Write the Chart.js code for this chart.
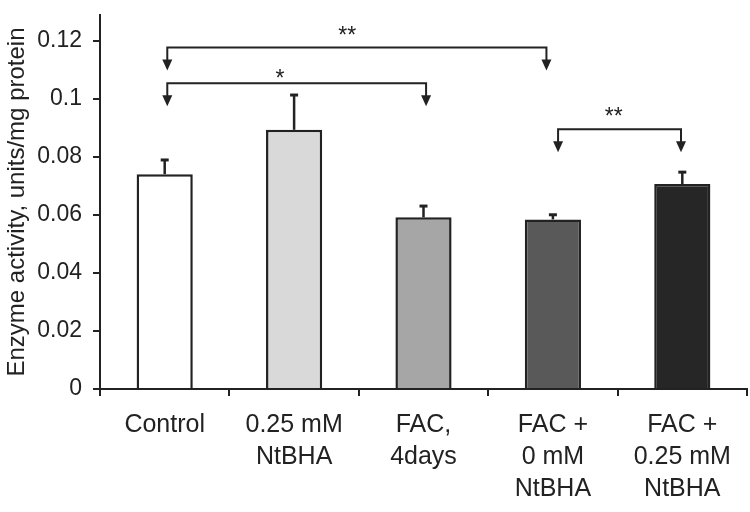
<!DOCTYPE html>
<html>
<head>
<meta charset="utf-8">
<script src="https://cdn.jsdelivr.net/npm/chart.js@4.4.1/dist/chart.umd.min.js"></script>
<style>
  html, body { margin: 0; padding: 0; background: #fff; }
  #wrap { width: 750px; height: 512px; }
</style>
</head>
<body>
<div id="wrap"><canvas id="chart" width="750" height="512"></canvas></div>
<script>
// --- DATA ---
const categories = [
  'Control',
  ['0.25 mM', 'NtBHA'],
  ['FAC,', '4days'],
  ['FAC +', '0 mM', 'NtBHA'],
  ['FAC +', '0.25 mM', 'NtBHA']
];
const activity = [0.0741, 0.0894, 0.0592, 0.0585, 0.0707];
const errors = [0.0049, 0.0120, 0.0039, 0.0016, 0.0041];
const barColors = ['#ffffff', '#d9d9d9', '#a6a6a6', '#595959', '#262626'];
const yTicks = [0, 0.02, 0.04, 0.06, 0.08, 0.1, 0.12];

// significance brackets (x in category index units, y in data units)
const bracketFrom = [0.02, 0.02, 3.04];
const bracketTo = [2.95, 2.02, 3.99];
const bracketY = [0.1178, 0.1055, 0.0896];
const starText = ['**', '*', '**'];
const starX = [1.41, 0.89, 3.47];
const starY = [0.1238, 0.1091, 0.0959];

const ink = '#222';
const fontFamily = '"Liberation Sans", Arial, Helvetica, sans-serif';

// --- PLUGINS ---
// upper error bars only
const errorBars = {
  id: 'errorBars',
  afterDatasetsDraw(chart) {
    const {ctx, scales: {x, y}} = chart;
    ctx.save();
    ctx.strokeStyle = ink;
    activity.forEach((v, i) => {
      const px = x.getPixelForValue(i);
      const top = y.getPixelForValue(v);
      const hi = y.getPixelForValue(v + errors[i]);
      ctx.lineWidth = 2.5;
      ctx.beginPath();
      ctx.moveTo(px, top);
      ctx.lineTo(px, hi);
      ctx.stroke();
      ctx.lineWidth = 3;
      ctx.beginPath();
      ctx.moveTo(px - 4, hi);
      ctx.lineTo(px + 4, hi);
      ctx.stroke();
    });
    ctx.restore();
  }
};

// brackets with down arrows and stars
const brackets = {
  id: 'brackets',
  afterDraw(chart) {
    const {ctx, scales: {x, y}} = chart;
    ctx.save();
    ctx.strokeStyle = ink;
    ctx.fillStyle = ink;
    ctx.lineWidth = 2;
    const drop = 13, head = 10, halfW = 5;
    bracketY.forEach((by, i) => {
      const x1 = x.getPixelForValue(bracketFrom[i]);
      const x2 = x.getPixelForValue(bracketTo[i]);
      const py = y.getPixelForValue(by);
      ctx.beginPath();
      ctx.moveTo(x1, py + drop);
      ctx.lineTo(x1, py);
      ctx.lineTo(x2, py);
      ctx.lineTo(x2, py + drop);
      ctx.stroke();
      [x1, x2].forEach(ax => {
        ctx.beginPath();
        ctx.moveTo(ax - halfW, py + drop - 1);
        ctx.lineTo(ax + halfW, py + drop - 1);
        ctx.lineTo(ax, py + drop + head);
        ctx.closePath();
        ctx.fill();
      });
      ctx.font = '23px ' + fontFamily;
      ctx.textAlign = 'center';
      ctx.textBaseline = 'alphabetic';
      ctx.fillText(starText[i], x.getPixelForValue(starX[i]), y.getPixelForValue(starY[i]) + 13);
    });
    ctx.restore();
  }
};

// --- CHART ---
new Chart(document.getElementById('chart'), {
  type: 'bar',
  data: {
    labels: categories,
    datasets: [{
      data: activity,
      backgroundColor: barColors,
      borderColor: ink,
      borderWidth: 2.5,
      borderSkipped: 'start',
      barPercentage: 0.434,
      categoryPercentage: 1
    }]
  },
  options: {
    responsive: false,
    devicePixelRatio: 1,
    animation: false,
    layout: { padding: { top: 15, right: 3, left: 0, bottom: 0 } },
    plugins: { legend: { display: false }, tooltip: { enabled: false } },
    scales: {
      x: {
        z: 1,
        offset: true,
        grid: {
          offset: true,
          drawOnChartArea: false,
          tickLength: 7,
          tickColor: ink,
          tickWidth: 2,
          lineWidth: 2
        },
        border: { color: ink, width: 2 },
        ticks: {
          color: ink,
          padding: 13,
          maxRotation: 0,
          autoSkip: false,
          font: { family: fontFamily, size: 25, lineHeight: 1.28 }
        },
        afterFit(scale) { scale.height = 123; scale.paddingLeft = 0; scale.paddingRight = 0; }
      },
      y: {
        z: 1,
        min: 0,
        max: 0.129,
        afterBuildTicks(scale) { scale.ticks = yTicks.map(v => ({ value: v })); },
        grid: {
          drawOnChartArea: false,
          tickLength: 7,
          tickColor: ink,
          tickWidth: 2,
          lineWidth: 2
        },
        border: { color: ink, width: 2 },
        ticks: {
          color: ink,
          padding: 11,
          font: { family: fontFamily, size: 23 },
          callback: v => String(+v.toFixed(2))
        },
        title: {
          display: true,
          text: 'Enzyme activity, units/mg protein',
          color: ink,
          font: { family: fontFamily, size: 24 },
          padding: { top: 3, bottom: 0 }
        },
        afterFit(scale) { scale.width = 100; scale.paddingTop = 0; scale.paddingBottom = 0; }
      }
    }
  },
  plugins: [errorBars, brackets]
});
</script>
</body>
</html>
